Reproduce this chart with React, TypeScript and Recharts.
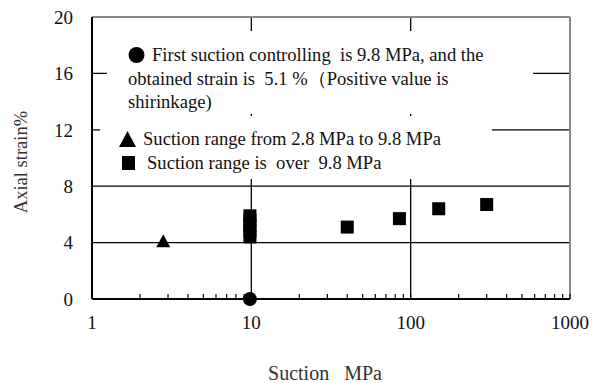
import { ScatterChart, Scatter, XAxis, YAxis, ReferenceLine } from 'recharts';

const xMajorTicks = [1, 10, 100, 1000];
const xMinorTicks = [2, 3, 4, 5, 6, 7, 8, 9, 20, 30, 40, 50, 60, 70, 80, 90, 200, 300, 400, 500, 600, 700, 800, 900];
const xTicks = [...xMajorTicks, ...xMinorTicks].sort((a, b) => a - b);
const yTicks = [0, 4, 8, 12, 16, 20];
const yGrid = [4, 8, 12, 16];
const xGrid = [10, 100];

// first suction step (circle), 2.8-9.8 MPa (triangle), over 9.8 MPa (squares)
const firstSuction = [{ x: 9.8, y: 0 }];
const lowRange = [{ x: 2.8, y: 4.1 }];
const highSuction = [9.8, 9.8, 9.8, 9.8, 9.8, 40, 85, 150, 300];
const highStrain = [4.4, 4.8, 5.2, 5.6, 5.9, 5.1, 5.7, 6.4, 6.7];
const highRange = highSuction.map((x, i) => ({ x, y: highStrain[i] }));

const FONT = '"Liberation Serif", "Times New Roman", serif';

const Circle = (p: any) => <circle cx={p.cx} cy={p.cy} r={7} fill="#000" />;
const Square = (p: any) => <rect x={p.cx - 6.5} y={p.cy - 6.5} width={13} height={13} fill="#000" />;
const Triangle = (p: any) => (
  <polygon points={`${p.cx},${p.cy - 7} ${p.cx - 7},${p.cy + 6} ${p.cx + 7},${p.cy + 6}`} fill="#000" />
);

const boxStyle: any = {
  position: 'absolute',
  background: '#fff',
  fontFamily: FONT,
  fontSize: 18.6,
  lineHeight: '23.5px',
  color: '#111',
  whiteSpace: 'pre',
  boxSizing: 'border-box',
};

// legend markers drawn as little inline svgs
const Mark = ({ kind, w }: { kind: string; w: number }) => (
  <svg width={w} height={18} style={{ verticalAlign: -3 }}>
    {kind === 'circle' && <circle cx={8.5} cy={9} r={8} fill="#000" />}
    {kind === 'triangle' && <polygon points="8.5,1 0,17 17,17" fill="#000" />}
    {kind === 'square' && <rect x={1} y={2} width={13} height={14} fill="#000" />}
  </svg>
);

export default function App() {
  return (
    <div style={{ position: 'absolute', left: 0, top: 0, width: 594, height: 383, background: '#fff' }}>
      <ScatterChart width={594} height={383} margin={{ top: 17, right: 24, bottom: 0, left: 0 }}>
        <XAxis
          type="number"
          dataKey="x"
          scale="log"
          domain={[1, 1000]}
          ticks={xTicks}
          interval={0}
          allowDataOverflow
          height={84}
          axisLine={{ stroke: '#000', strokeWidth: 2 }}
          tickLine={{ stroke: '#000', strokeWidth: 1.2 }}
          tickSize={-5}
          tickMargin={22}
          tickFormatter={(v: number) => (xMajorTicks.includes(v) ? String(v) : '')}
          tick={{ fill: '#111', fontSize: 19, fontFamily: FONT }}
          label={{ value: 'Suction\u00A0\u00A0\u00A0MPa', position: 'insideBottom', offset: 3, dx: -6, fill: '#333', fontSize: 20, fontFamily: FONT }}
        />
        <YAxis
          type="number"
          dataKey="y"
          domain={[0, 20]}
          ticks={yTicks}
          width={92}
          axisLine={{ stroke: '#000', strokeWidth: 2 }}
          tickLine={false}
          tickSize={10}
          tickMargin={9}
          tick={{ fill: '#111', fontSize: 19, fontFamily: FONT }}
          label={{ value: 'Axial strain%', angle: -90, position: 'center', dx: -26, dy: 4, fill: '#333', fontSize: 18.5, fontFamily: FONT }}
        />
        {yGrid.map((v) => (
          <ReferenceLine key={'h' + v} y={v} stroke="#000" strokeWidth={1.3} />
        ))}
        {xGrid.map((v) => (
          <ReferenceLine key={'v' + v} x={v} stroke="#000" strokeWidth={1.3} />
        ))}
        <ReferenceLine y={20} stroke="#888" strokeWidth={2} />
        <ReferenceLine x={1000} stroke="#888" strokeWidth={2} />
        <Scatter data={lowRange} shape={Triangle} isAnimationActive={false} />
        <Scatter data={highRange} shape={Square} isAnimationActive={false} />
        <Scatter data={firstSuction} shape={Circle} isAnimationActive={false} />
      </ScatterChart>
      <div style={{ ...boxStyle, left: 107, top: 31, width: 426, height: 83, paddingLeft: 21, paddingTop: 12 }}>
        <Mark kind="circle" w={24} />
        {'First suction controlling  is 9.8 MPa, and the\nobtained strain is  5.1 %（Positive value is\nshirinkage)'}
      </div>
      <div style={{ ...boxStyle, left: 100, top: 116, width: 392, height: 63, paddingLeft: 19, paddingTop: 11 }}>
        <Mark kind="triangle" w={24} />
        {'Suction range from 2.8 MPa to 9.8 MPa\n'}
        <span style={{ marginLeft: 2 }}>
          <Mark kind="square" w={26} />
        </span>
        {'Suction range is  over  9.8 MPa'}
      </div>
    </div>
  );
}
